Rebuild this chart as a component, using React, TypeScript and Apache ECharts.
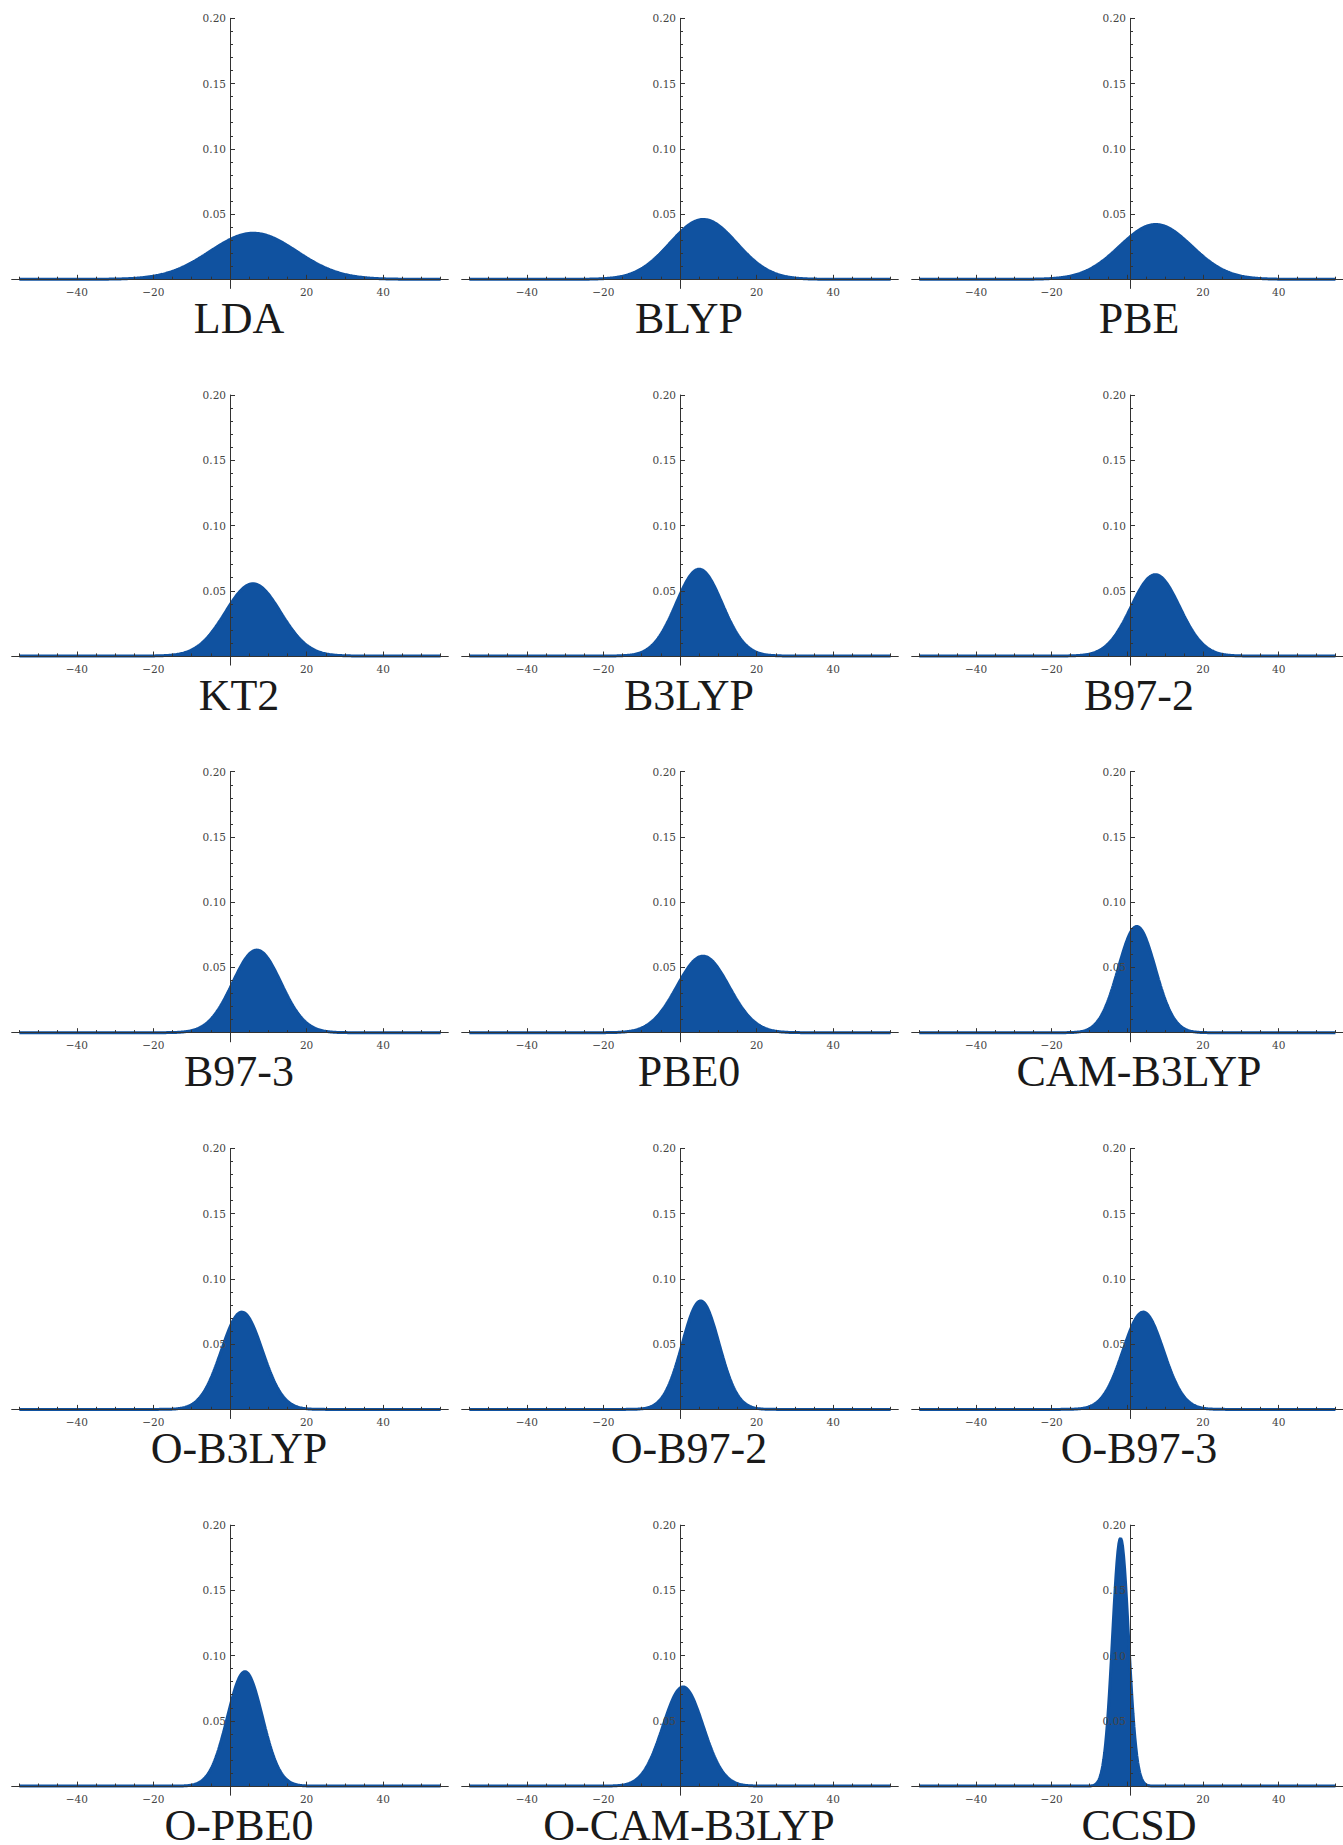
import React, { useEffect, useRef } from "react";
import * as echarts from "echarts";

// Panel titles (functional names)
const methods = [
  "LDA", "BLYP", "PBE",
  "KT2", "B3LYP", "B97-2",
  "B97-3", "PBE0", "CAM-B3LYP",
  "O-B3LYP", "O-B97-2", "O-B97-3",
  "O-PBE0", "O-CAM-B3LYP", "CCSD",
];
// Mean error (centre of each normal distribution)
const means = [6.1, 6.1, 7.5, 6.0, 5.0, 7.4, 7.0, 6.0, 2.5, 3.1, 5.4, 4.2, 3.9, 0.8, -1.8];
// Standard deviation of each distribution (peak height = 1/(sd*sqrt(2pi)))
const sds = [11.3, 8.7, 9.5, 7.2, 6.0, 6.4, 6.3, 6.8, 4.9, 5.35, 4.8, 5.35, 4.55, 5.25, 2.1];

// Axis ticks and labels
const xMajorTicks = [-40, -20, 0, 20, 40];
const xTickLabels = [-40, -20, 20, 40];
const xMinorTicks = [-55, -50, -45, -40, -35, -30, -25, -20, -15, -10, -5, 0, 5, 10, 15, 20, 25, 30, 35, 40, 45, 50, 55];
const yTickLabels = [0.05, 0.1, 0.15, 0.2];
const yMinorTicks = [0.01, 0.02, 0.03, 0.04, 0.06, 0.07, 0.08, 0.09, 0.11, 0.12, 0.13, 0.14, 0.16, 0.17, 0.18, 0.19];

const X_MIN = -57;
const X_MAX = 57;
const Y_MIN = -0.007;
const Y_MAX = 0.2;
const SAMPLE_FROM = -55;
const SAMPLE_TO = 55;
const SAMPLE_STEP = 0.25;

// layout (pixels)
const COL0 = 230;
const COL_STEP = 450;
const ROW0 = 18.3;
const ROW_STEP = 376.7;
const PX_PER_X = 3.83;
const PX_PER_Y = 1305;
const TITLE_BASE0 = 333;
const TITLE_SIZE = 44;

const FILL = "#1052a0";
const AXIS = "#333333";
const LABEL_FONT = "DejaVu Serif";

function normalCurve(mu: number, sd: number): number[][] {
  const pts: number[][] = [];
  const k = 1 / (sd * Math.sqrt(2 * Math.PI));
  const n = Math.round((SAMPLE_TO - SAMPLE_FROM) / SAMPLE_STEP);
  for (let i = 0; i <= n; i++) {
    const x = SAMPLE_FROM + i * SAMPLE_STEP;
    const z = (x - mu) / sd;
    pts.push([x, k * Math.exp(-0.5 * z * z)]);
  }
  return pts;
}

function fmtX(v: number) {
  return v < 0 ? "\u2212" + Math.abs(v) : String(v);
}

function buildOption() {
  const grid: any[] = [];
  const xAxis: any[] = [];
  const yAxis: any[] = [];
  const series: any[] = [];
  const graphic: any[] = [];

  // offsets that move each axis from the grid edge onto the zero line of the other axis
  const xAxisOffset = -(0 - Y_MIN) * PX_PER_Y;
  const yAxisOffset = -(0 - X_MIN) * PX_PER_X;

  methods.forEach((name, i) => {
    const r = Math.floor(i / 3);
    const c = i % 3;
    const x0 = COL0 + c * COL_STEP;
    grid.push({
      left: x0 + X_MIN * PX_PER_X,
      top: ROW0 + r * ROW_STEP,
      width: (X_MAX - X_MIN) * PX_PER_X,
      height: (Y_MAX - Y_MIN) * PX_PER_Y,
      containLabel: false,
    });
    const labelStyle = {
      fontFamily: LABEL_FONT,
      fontSize: 10.5,
      color: "#444444",
    };
    // major x axis
    xAxis.push({
      type: "value",
      gridIndex: i,
      position: "bottom",
      offset: xAxisOffset,
      min: X_MIN,
      max: X_MAX,
      z: 5,
      axisLine: { show: true, onZero: false, lineStyle: { color: AXIS, width: 1 } },
      axisTick: { show: true, inside: true, length: 4.5, customValues: xMajorTicks, lineStyle: { color: AXIS, width: 1 } },
      axisLabel: { show: true, customValues: xTickLabels, margin: 7, formatter: (v: number) => fmtX(v), ...labelStyle },
      splitLine: { show: false },
    });
    // minor x ticks
    xAxis.push({
      type: "value",
      gridIndex: i,
      position: "bottom",
      offset: xAxisOffset,
      min: X_MIN,
      max: X_MAX,
      z: 5,
      axisLine: { show: false, onZero: false },
      axisTick: { show: true, inside: true, length: 2.6, customValues: xMinorTicks, lineStyle: { color: AXIS, width: 1 } },
      axisLabel: { show: false },
      splitLine: { show: false },
    });
    // major y axis
    yAxis.push({
      type: "value",
      gridIndex: i,
      position: "left",
      offset: yAxisOffset,
      min: Y_MIN,
      max: Y_MAX,
      z: 5,
      axisLine: { show: true, onZero: false, lineStyle: { color: AXIS, width: 1 } },
      axisTick: { show: true, inside: true, length: 5, customValues: yTickLabels, lineStyle: { color: AXIS, width: 1 } },
      axisLabel: { show: true, customValues: yTickLabels, margin: 4, formatter: (v: number) => v.toFixed(2), ...labelStyle },
      splitLine: { show: false },
    });
    // minor y ticks
    yAxis.push({
      type: "value",
      gridIndex: i,
      position: "left",
      offset: yAxisOffset,
      min: Y_MIN,
      max: Y_MAX,
      z: 5,
      axisLine: { show: false, onZero: false },
      axisTick: { show: true, inside: true, length: 3, customValues: yMinorTicks, lineStyle: { color: AXIS, width: 1 } },
      axisLabel: { show: false },
      splitLine: { show: false },
    });
    series.push({
      type: "line",
      name,
      xAxisIndex: 2 * i,
      yAxisIndex: 2 * i,
      data: normalCurve(means[i], sds[i]),
      showSymbol: false,
      symbol: "none",
      smooth: false,
      z: 1,
      lineStyle: { color: FILL, width: 3 },
      areaStyle: { color: FILL, opacity: 1, origin: 0 },
      silent: true,
    });
    graphic.push({
      type: "text",
      x: x0 + 9,
      y: TITLE_BASE0 + r * ROW_STEP - 0.33 * TITLE_SIZE,
      silent: true,
      style: {
        text: name,
        fill: "#1a1a1a",
        fontFamily: "Liberation Serif",
        fontSize: TITLE_SIZE,
        lineHeight: 32,
        align: "center",
        verticalAlign: "middle",
        textAlign: "center",
        textVerticalAlign: "middle",
      },
    });
  });

  return {
    animation: false,
    backgroundColor: "#ffffff",
    grid,
    xAxis,
    yAxis,
    series,
    graphic,
  };
}

export default function App() {
  const ref = useRef<HTMLDivElement>(null);
  useEffect(() => {
    if (!ref.current) return;
    const chart = echarts.init(ref.current, undefined, { renderer: "svg" });
    chart.setOption(buildOption() as any);
    return () => chart.dispose();
  }, []);
  return (
    <div
      ref={ref}
      style={{ position: "absolute", left: 0, top: 0, width: 1343, height: 1845, background: "#fff" }}
    />
  );
}
